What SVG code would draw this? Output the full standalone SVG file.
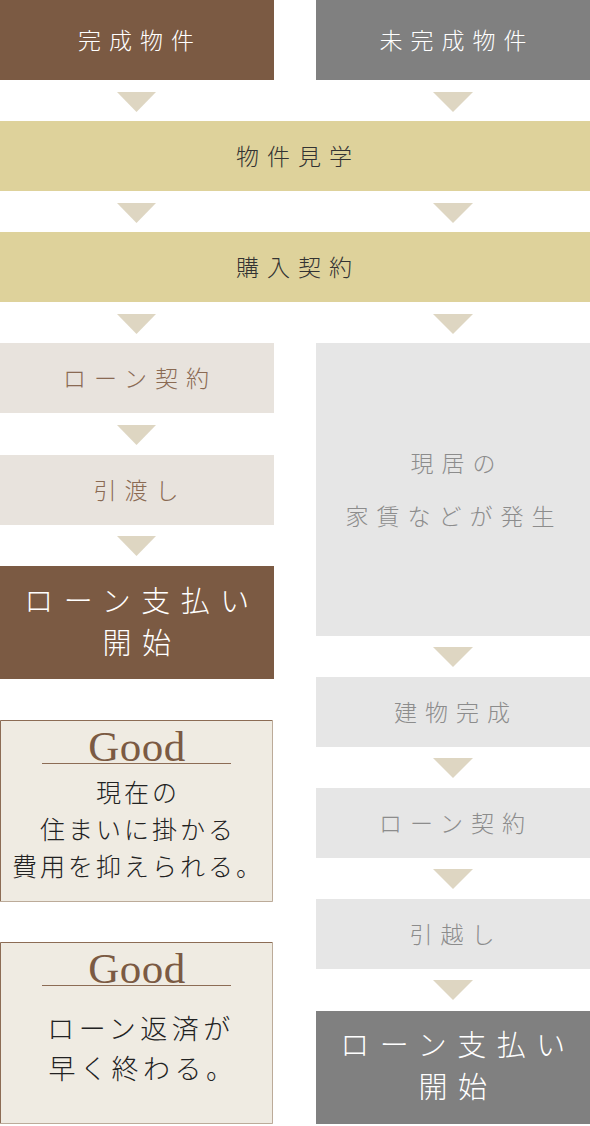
<svg xmlns="http://www.w3.org/2000/svg" width="590" height="1126" viewBox="0 0 590 1126">
<style>
.t{font-family:"Noto Sans CJK JP","Noto Sans CJK SC",sans-serif;font-weight:300;text-anchor:middle;dominant-baseline:central}
.m{font-size:23px;letter-spacing:8px}
.b{font-size:29px;letter-spacing:10.5px;fill:#fff}
.w{fill:#fff}
.d{fill:#333}
.br{fill:#8a6a53}
.g{fill:#8c8c8c}
.k{fill:#222}
.good{font-family:"Liberation Serif","Times New Roman",serif;font-size:43px;letter-spacing:0.5px;fill:#7b5a43;text-anchor:middle}
.arr{fill:#ded6c2}
</style>
<rect width="590" height="1126" fill="#fff"/>
<g id="connectors">
<polygon class="arr" points="117,92 156,92 136.5,112"/>
<polygon class="arr" points="433,92 473,92 453,112"/>
<polygon class="arr" points="117,203 156,203 136.5,223"/>
<polygon class="arr" points="433,203 473,203 453,223"/>
<polygon class="arr" points="117,314 156,314 136.5,334"/>
<polygon class="arr" points="433,314 473,314 453,334"/>
<polygon class="arr" points="117,425 156,425 136.5,445"/>
<polygon class="arr" points="117,536 156,536 136.5,556"/>
<polygon class="arr" points="433,647 473,647 453,667"/>
<polygon class="arr" points="433,758 473,758 453,778"/>
<polygon class="arr" points="433,869 473,869 453,889"/>
<polygon class="arr" points="433,980 473,980 453,1000"/>
</g>
<g id="n-kansei">
<rect x="0" y="0" width="274" height="80" fill="#7b5a43"/>
<text class="t m w" x="140" y="39">完成物件</text>
</g>
<g id="n-mikansei">
<rect x="316" y="0" width="274" height="80" fill="#808080"/>
<text class="t m w" x="457" y="39">未完成物件</text>
</g>
<g id="n-kengaku">
<rect x="0" y="121" width="590" height="70" fill="#ded29b"/>
<text class="t m d" x="298" y="155">物件見学</text>
</g>
<g id="n-kounyu">
<rect x="0" y="232" width="590" height="70" fill="#ded29b"/>
<text class="t m d" x="298" y="266">購入契約</text>
</g>
<g id="n-loan-l">
<rect x="0" y="343" width="274" height="70" fill="#e8e3dd"/>
<text class="t m br" x="140" y="377">ローン契約</text>
</g>
<g id="n-hikiwatashi">
<rect x="0" y="455" width="274" height="70" fill="#e8e3dd"/>
<text class="t m br" x="140" y="489">引渡し</text>
</g>
<g id="n-shiharai-l">
<rect x="0" y="566" width="274" height="113" fill="#7b5a43"/>
<text class="t b" x="142" y="599">ローン支払い</text>
<text class="t b" x="142" y="641">開始</text>
</g>
<g id="n-good1">
<rect x="0" y="720" width="273" height="182" fill="#efebe2"/>
<path d="M0.5,902 V720.5 H273" fill="none" stroke="#8c6c55" stroke-width="1"/>
<path d="M272.5,720 V901.5 H0" fill="none" stroke="#bcab99" stroke-width="1"/>
<text class="good" x="137" y="761">Good</text>
<line x1="42" y1="763.5" x2="231" y2="763.5" stroke="#8c6c55" stroke-width="1"/>
<text class="t k" style="font-size:25px;letter-spacing:3px" x="138" y="791">現在の</text>
<text class="t k" style="font-size:25px;letter-spacing:3px" x="138" y="828">住まいに掛かる</text>
<text class="t k" style="font-size:25px;letter-spacing:3px" x="138" y="865">費用を抑えられる。</text>
</g>
<g id="n-good2">
<rect x="0" y="942" width="273" height="182" fill="#efebe2"/>
<path d="M0.5,1124 V942.5 H273" fill="none" stroke="#8c6c55" stroke-width="1"/>
<path d="M272.5,942 V1123.5 H0" fill="none" stroke="#bcab99" stroke-width="1"/>
<text class="good" x="137" y="983">Good</text>
<line x1="42" y1="985.5" x2="231" y2="985.5" stroke="#8c6c55" stroke-width="1"/>
<text class="t k" style="font-size:27px;letter-spacing:4.5px" x="141" y="1027">ローン返済が</text>
<text class="t k" style="font-size:27px;letter-spacing:4.5px" x="143" y="1067">早く終わる。</text>
</g>
<g id="n-kyojyu">
<rect x="316" y="343" width="274" height="293" fill="#e6e6e6"/>
<text class="t m g" x="457" y="462">現居の</text>
<text class="t m g" x="454" y="515">家賃などが発生</text>
</g>
<g id="n-tatemono">
<rect x="316" y="677" width="274" height="70" fill="#e6e6e6"/>
<text class="t m g" x="456" y="711">建物完成</text>
</g>
<g id="n-loan-r">
<rect x="316" y="788" width="274" height="70" fill="#e6e6e6"/>
<text class="t m g" x="456" y="822">ローン契約</text>
</g>
<g id="n-hikkoshi">
<rect x="316" y="899" width="274" height="70" fill="#e6e6e6"/>
<text class="t m g" x="456" y="933">引越し</text>
</g>
<g id="n-shiharai-r">
<rect x="316" y="1011" width="274" height="113" fill="#808080"/>
<text class="t b" x="458" y="1043">ローン支払い</text>
<text class="t b" x="458" y="1085">開始</text>
</g>
</svg>
